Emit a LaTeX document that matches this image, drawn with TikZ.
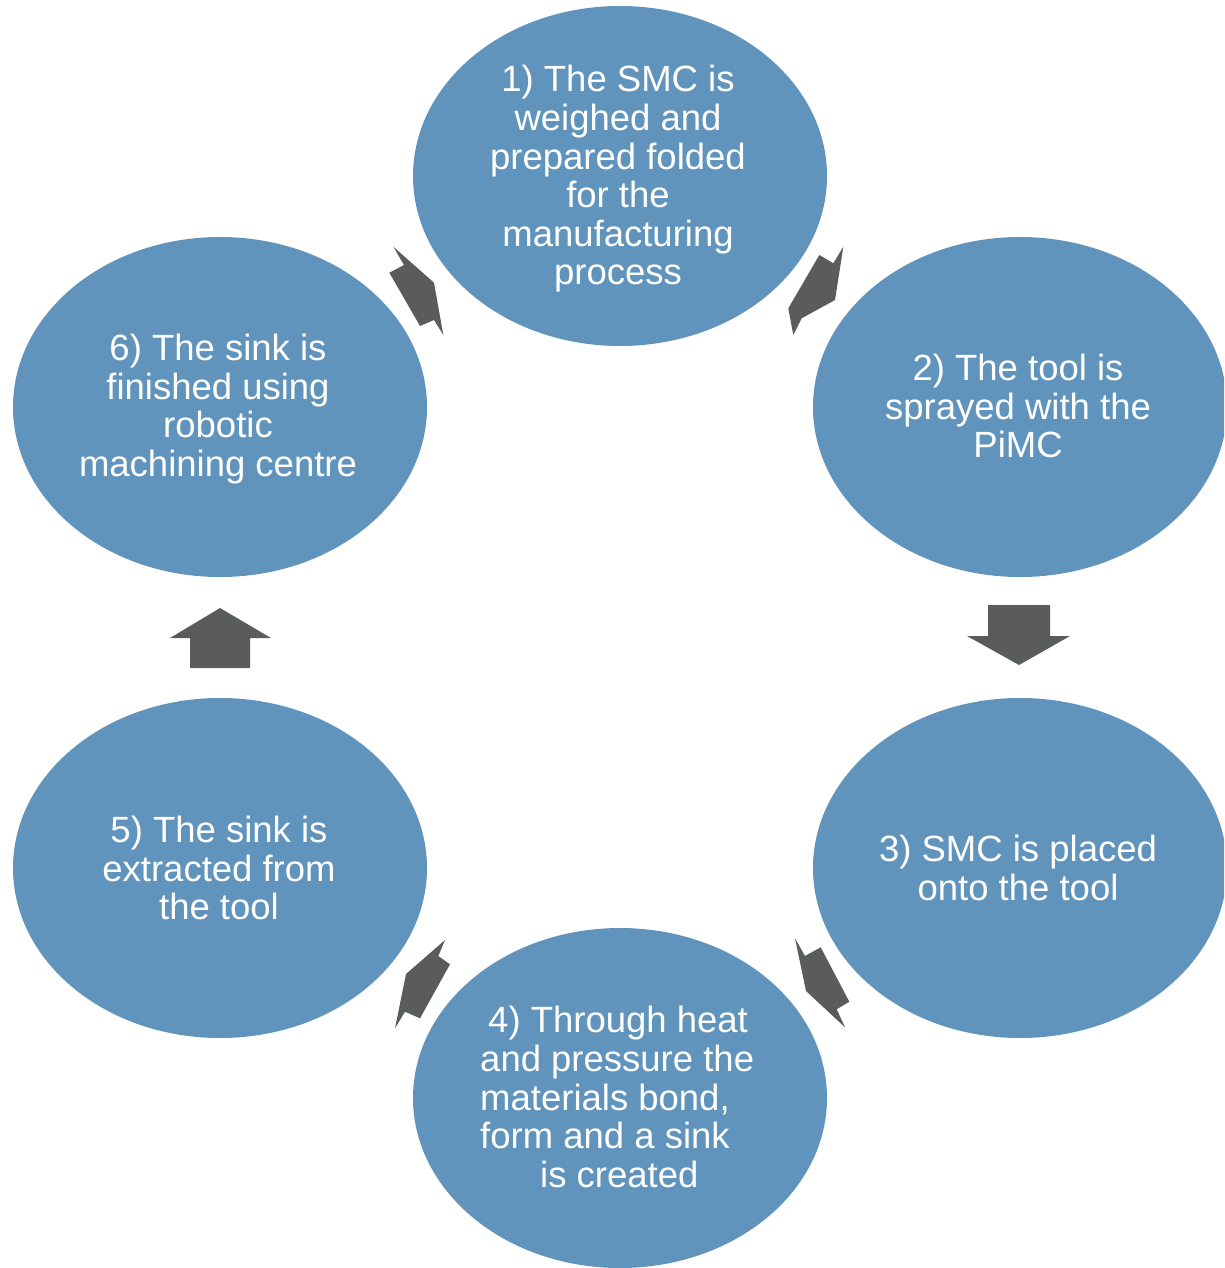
\documentclass[tikz,border=0pt]{standalone}
\usepackage{fontspec}
\setmainfont{Liberation Sans}
\definecolor{stepblue}{HTML}{6194BC}
\definecolor{arrowgrey}{HTML}{5A5C5B}
\begin{document}
\begin{tikzpicture}[x=1pt,y=-1pt,
  steptext/.style={text=white, font=\fontsize{36.5}{38.6}\selectfont, align=center, inner sep=0pt},
  blockarrow/.style={fill=arrowgrey, draw=none}]
\useasboundingbox (0,0) rectangle (1224,1268);
\clip (0,0) rectangle (1224,1268);
\fill[white] (0,0) rectangle (1224,1268);
% ellipses
\fill[stepblue] (620,176) ellipse [x radius=207, y radius=170];
\fill[stepblue] (1020,407) ellipse [x radius=207, y radius=170];
\fill[stepblue] (1020,868) ellipse [x radius=207, y radius=170];
\fill[stepblue] (620,1098) ellipse [x radius=207, y radius=170];
\fill[stepblue] (220,868) ellipse [x radius=207, y radius=170];
\fill[stepblue] (220,407) ellipse [x radius=207, y radius=170];
% texts
\node[steptext] (s1) at (618,179) {1) The SMC is\\weighed and\\prepared folded\\for the\\manufacturing\\process};
\node[steptext] (s2) at (1018,406) {2) The tool is\\sprayed with the\\PiMC};
\node[steptext] (s3) at (1018,868) {3) SMC is placed\\onto the tool};
\node[steptext, align=left, anchor=west] (s4) at (480,1097) {\hspace*{8pt}4) Through heat\\and pressure the\\materials bond,\\form and a sink\\\hspace*{60pt}is created};
\node[steptext] (s5) at (219,868) {5) The sink is\\extracted from\\the tool};
\node[steptext] (s6) at (218,409) {6) The sink is\\finished using\\robotic\\machining centre};
% arrows
\fill[blockarrow] (819.3,255) -- (833.3,263.3) -- (843.3,246.7) -- (835,300) -- (801.7,318.3) -- (793.3,335) -- (788.3,308.3) -- cycle;
\fill[blockarrow] (988,605) -- (1050,605) -- (1050,636) -- (1070,636) -- (1019,665) -- (967,636) -- (988,636) -- cycle;
\fill[blockarrow] (795,938.3) -- (805,956) -- (820.7,947.3) -- (849.3,1001.7) -- (836.7,1009.3) -- (845,1027.3) -- (806,991) -- cycle;
\fill[blockarrow] (445,940) -- (438.3,956) -- (450,964.3) -- (420,1018.3) -- (405,1011.7) -- (395,1028.3) -- (406,974) -- cycle;
\fill[blockarrow] (190,668) -- (250,668) -- (250,638) -- (271,638) -- (220,608) -- (170,638) -- (190,638) -- cycle;
\fill[blockarrow] (393.3,246.7) -- (404,265) -- (389.3,272.7) -- (420,326) -- (434,320) -- (443.3,335) -- (434,282.7) -- cycle;
\end{tikzpicture}
\end{document}
